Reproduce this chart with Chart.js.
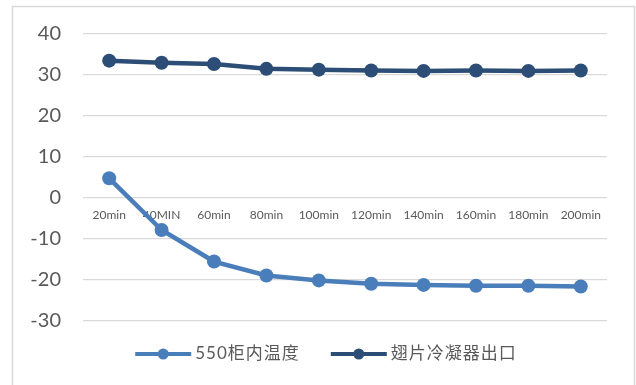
<!DOCTYPE html>
<html>
<head>
<meta charset="utf-8">
<script src="https://cdn.jsdelivr.net/npm/chart.js@4.4.1/dist/chart.umd.min.js"></script>
<style>
  html, body { margin: 0; padding: 0; background: #ffffff; }
  canvas { display: block; }
</style>
</head>
<body>
<canvas id="chart" width="636" height="385"></canvas>
<script>
// Sampling times
const timeLabels = ['20min', '40MIN', '60min', '80min', '100min', '120min', '140min', '160min', '180min', '200min'];
// Temperature inside cabinet 550 (°C)
const cabinet550Temp = [4.8, -7.8, -15.5, -18.9, -20.1, -20.9, -21.2, -21.4, -21.4, -21.6];
// Fin condenser outlet temperature (°C)
const finCondenserOutlet = [33.5, 33.0, 32.7, 31.5, 31.3, 31.1, 31.0, 31.1, 31.0, 31.1];
// Value axis range and step
const yMin = -30, yMax = 40, yStep = 10;

const seriesNames = ['550柜内温度', '翅片冷凝器出口'];
const seriesColors = ['#4A7EBB', '#2C4D75'];

const GREY_TEXT = '#595959';
const GRID = '#d9d9d9';

// Outer frame around the chart
const framePlugin = {
  id: 'frame',
  beforeDraw(chart) {
    const ctx = chart.ctx;
    ctx.save();
    ctx.fillStyle = '#ffffff';
    ctx.fillRect(0, 0, chart.width, chart.height);
    ctx.strokeStyle = GRID;
    ctx.lineWidth = 1.5;
    ctx.strokeRect(12.5, 6.5, 622, chart.height + 20);
    ctx.restore();
  }
};

// Bottom legend: line-with-marker swatch followed by the series name
const lineLegendPlugin = {
  id: 'lineLegend',
  afterDraw(chart) {
    const ctx = chart.ctx;
    const y = 354;
    const swatch = 56, textGap = 4, itemGap = 31;
    ctx.save();
    ctx.font = '17px Lato, "Noto Sans CJK SC", sans-serif';
    if ('letterSpacing' in ctx) ctx.letterSpacing = '1px';
    const widths = chart.data.datasets.map(ds => ctx.measureText(ds.label).width);
    let total = 0;
    widths.forEach((w, i) => { total += swatch + textGap + w + (i < widths.length - 1 ? itemGap : 0); });
    let x = 326 - total / 2;
    chart.data.datasets.forEach((ds, i) => {
      ctx.strokeStyle = ds.borderColor;
      ctx.lineWidth = 4;
      ctx.lineCap = 'butt';
      ctx.beginPath();
      ctx.moveTo(x, y);
      ctx.lineTo(x + swatch, y);
      ctx.stroke();
      ctx.fillStyle = ds.borderColor;
      ctx.beginPath();
      ctx.arc(x + swatch / 2, y, 5.5, 0, Math.PI * 2);
      ctx.fill();
      ctx.fillStyle = GREY_TEXT;
      ctx.textAlign = 'left';
      ctx.textBaseline = 'middle';
      ctx.fillText(ds.label, x + swatch + textGap, y);
      x += swatch + textGap + widths[i] + itemGap;
    });
    ctx.restore();
  }
};

new Chart(document.getElementById('chart'), {
  type: 'line',
  data: {
    labels: timeLabels,
    datasets: [
      {
        label: seriesNames[0],
        data: cabinet550Temp,
        borderColor: seriesColors[0],
        backgroundColor: seriesColors[0],
        borderWidth: 4.5,
        pointRadius: 7,
        pointBorderWidth: 0,
        pointBackgroundColor: seriesColors[0],
        tension: 0
      },
      {
        label: seriesNames[1],
        data: finCondenserOutlet,
        borderColor: seriesColors[1],
        backgroundColor: seriesColors[1],
        borderWidth: 4.5,
        pointRadius: 7,
        pointBorderWidth: 0,
        pointBackgroundColor: seriesColors[1],
        tension: 0
      }
    ]
  },
  options: {
    responsive: false,
    devicePixelRatio: 1,
    animation: false,
    events: [],
    layout: { padding: { left: 0, right: 29, top: 34, bottom: 64 } },
    plugins: {
      legend: { display: false },
      tooltip: { enabled: false }
    },
    scales: {
      x: {
        type: 'category',
        position: { y: 0 },
        offset: true,
        grid: { display: false, drawTicks: false },
        border: { display: false },
        ticks: {
          color: GREY_TEXT,
          font: { family: 'Lato, "Open Sans", sans-serif', size: 12 },
          padding: 10,
          maxRotation: 0,
          autoSkip: false
        }
      },
      y: {
        min: yMin,
        max: yMax,
        afterFit(scale) { scale.width = 83; },
        grid: { color: GRID, lineWidth: 1.3, drawTicks: false },
        border: { display: false },
        ticks: {
          stepSize: yStep,
          color: GREY_TEXT,
          font: { family: 'Lato, "Open Sans", sans-serif', size: 20 },
          padding: 22
        }
      }
    }
  },
  plugins: [framePlugin, lineLegendPlugin]
});
</script>
</body>
</html>
